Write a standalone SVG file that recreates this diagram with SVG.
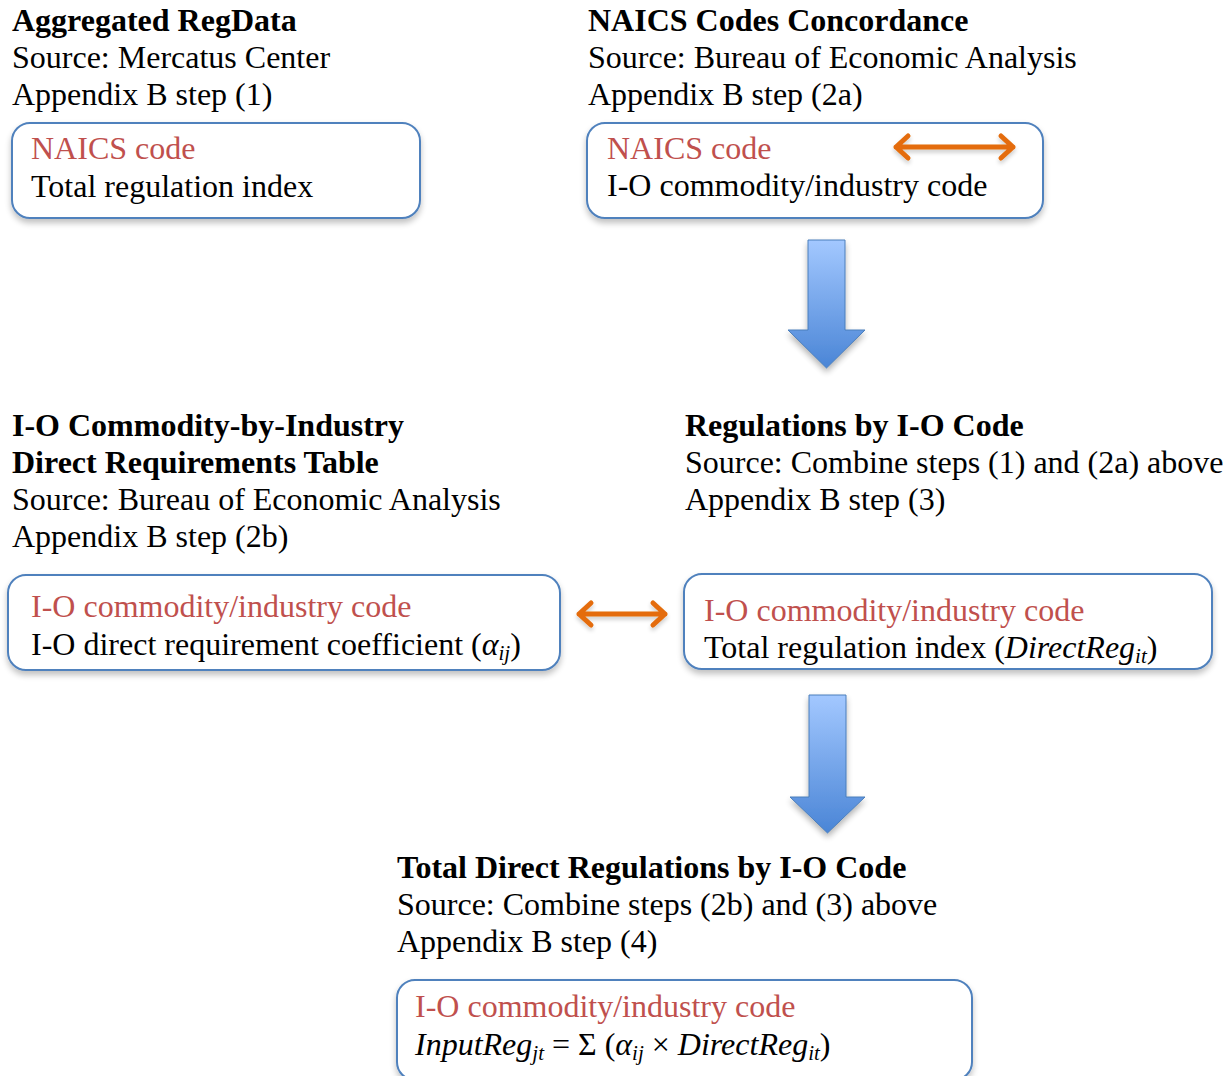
<svg xmlns="http://www.w3.org/2000/svg" width="1232" height="1076" viewBox="0 0 1232 1076">
<defs>
<style>
text{font-family:"Liberation Serif","Times New Roman",serif;font-size:32px;fill:#000}
.b{font-weight:bold}
.r{fill:#c0504d}
.i{font-style:italic}
.s{font-size:21px}
.box{fill:#fff;stroke:#4f81bd;stroke-width:2;filter:url(#sh)}
.oa{stroke:#e46c0a;stroke-width:5;fill:none;stroke-linecap:round;stroke-linejoin:round;filter:url(#sh3)}
.ba{fill:url(#bg);stroke:#4a7ebb;stroke-width:1;filter:url(#sh2)}
</style>
<filter id="sh" x="-10%" y="-20%" width="120%" height="150%">
<feGaussianBlur in="SourceAlpha" stdDeviation="3"/>
<feOffset dx="0" dy="4"/>
<feComponentTransfer><feFuncA type="linear" slope="0.25"/></feComponentTransfer>
<feMerge><feMergeNode/><feMergeNode in="SourceGraphic"/></feMerge>
</filter>
<filter id="sh2" x="-30%" y="-10%" width="160%" height="130%">
<feGaussianBlur in="SourceAlpha" stdDeviation="3"/>
<feOffset dx="0" dy="4"/>
<feComponentTransfer><feFuncA type="linear" slope="0.3"/></feComponentTransfer>
<feMerge><feMergeNode/><feMergeNode in="SourceGraphic"/></feMerge>
</filter>
<filter id="sh3" x="-20%" y="-50%" width="140%" height="200%">
<feGaussianBlur in="SourceAlpha" stdDeviation="2"/>
<feOffset dx="0" dy="3"/>
<feComponentTransfer><feFuncA type="linear" slope="0.2"/></feComponentTransfer>
<feMerge><feMergeNode/><feMergeNode in="SourceGraphic"/></feMerge>
</filter>
<linearGradient id="bg" x1="0" y1="0" x2="0" y2="1">
<stop offset="0" stop-color="#a3c8ff"/>
<stop offset="1" stop-color="#4a85d6"/>
</linearGradient>
</defs>

<g id="node-regdata">
<text class="b" x="12" y="31">Aggregated RegData</text>
<text x="12" y="68">Source: Mercatus Center</text>
<text x="12" y="105">Appendix B step (1)</text>
<rect class="box" x="12" y="123" width="408" height="95" rx="18"/>
<text class="r" x="31" y="159">NAICS code</text>
<text x="31" y="197">Total regulation index</text>
</g>

<g id="node-naics">
<text class="b" x="588" y="31">NAICS Codes Concordance</text>
<text x="588" y="68">Source: Bureau of Economic Analysis</text>
<text x="588" y="105">Appendix B step (2a)</text>
<rect class="box" x="587" y="123" width="456" height="95" rx="18"/>
<text class="r" x="607" y="159">NAICS code</text>
<text x="607" y="196">I-O commodity/industry code</text>
</g>

<g id="node-io-table">
<text class="b" x="12" y="436">I-O Commodity-by-Industry</text>
<text class="b" x="12" y="473">Direct Requirements Table</text>
<text x="12" y="510">Source: Bureau of Economic Analysis</text>
<text x="12" y="547">Appendix B step (2b)</text>
<rect class="box" x="8" y="575" width="552" height="95" rx="18"/>
<text class="r" x="31" y="617">I-O commodity/industry code</text>
<text x="31" y="655">I-O direct requirement coefficient (<tspan class="i">α<tspan class="s" dy="5">ij</tspan></tspan><tspan dy="-5">)</tspan></text>
</g>

<g id="node-reg-io">
<text class="b" x="685" y="436">Regulations by I-O Code</text>
<text x="685" y="473">Source: Combine steps (1) and (2a) above</text>
<text x="685" y="510">Appendix B step (3)</text>
<rect class="box" x="684" y="574" width="528" height="95" rx="18"/>
<text class="r" x="704" y="621">I-O commodity/industry code</text>
<text x="704" y="658">Total regulation index (<tspan class="i">DirectReg<tspan class="s" dy="5">it</tspan></tspan><tspan dy="-5">)</tspan></text>
</g>

<g id="node-total">
<text class="b" x="397" y="878">Total Direct Regulations by I-O Code</text>
<text x="397" y="915">Source: Combine steps (2b) and (3) above</text>
<text x="397" y="952">Appendix B step (4)</text>
<rect class="box" x="397" y="980" width="575" height="100" rx="18"/>
<text class="r" x="415" y="1017">I-O commodity/industry code</text>
<text x="415" y="1055"><tspan class="i">InputReg<tspan class="s" dy="5">jt</tspan></tspan><tspan dy="-5"> = Σ (</tspan><tspan class="i">α<tspan class="s" dy="5">ij</tspan></tspan><tspan dy="-5"> × </tspan><tspan class="i">DirectReg<tspan class="s" dy="5">it</tspan></tspan><tspan dy="-5">)</tspan></text>
</g>

<g id="connectors">
<path class="ba" d="M808 240 H845 V330 H865 L826.5 368 L788 330 H808 Z"/>
<path class="ba" d="M809 695 H846 V797 H865 L827.5 833 L790 797 H809 Z"/>
<g class="oa">
<path d="M896 147 H1013 M908 136 L896 147 L908 158 M1001 136 L1013 147 L1001 158"/>
<path d="M579 614 H665 M591 603 L579 614 L591 625 M653 603 L665 614 L653 625"/>
</g>
</g>
</svg>
